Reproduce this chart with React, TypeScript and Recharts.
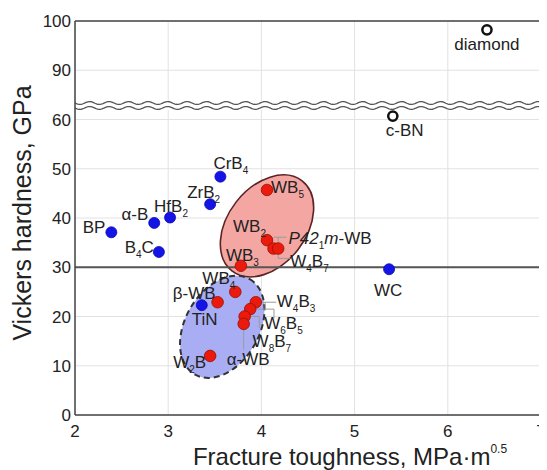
import React from 'react';
import {
  ScatterChart,
  Scatter,
  XAxis,
  YAxis,
  CartesianGrid,
  ReferenceLine,
  ReferenceArea,
  ReferenceDot,
} from 'recharts';

// ---------------- data ----------------
const xTicks = [2, 3, 4, 5, 6, 7];
// axis positions (lower panel 0..62.5 GPa, upper panel shifted down by GAP)
const yAxisTicks = [0, 10, 20, 30, 40, 50, 60, 70, 80];
const GAP = 20; // GPa removed by the axis break (≈62.5 .. 82.5)

const blueNames = ['BP', 'α-B', 'HfB_2', 'ZrB_2', 'CrB_4', 'B_4C', 'TiN', 'WC'];
const blueToughness = [2.39, 2.85, 3.02, 3.45, 3.56, 2.9, 3.36, 5.37];
const blueHardness = [37.1, 39.0, 40.1, 42.8, 48.4, 33.1, 22.3, 29.6];

const redNames = ['WB_5', 'WB_2', '*P42*_1*m*-WB', 'W_4B_7', 'WB_3', 'WB_4', 'β-WB', 'W_4B_3', 'W_6B_5', 'W_8B_7', 'α-WB', 'W_2B'];
const redToughness = [4.06, 4.06, 4.13, 4.18, 3.78, 3.72, 3.53, 3.94, 3.88, 3.82, 3.81, 3.45];
const redHardness = [45.7, 35.5, 33.8, 33.8, 30.3, 25.0, 22.9, 22.9, 21.5, 20.0, 18.5, 12.0];

const hollowNames = ['diamond', 'c-BN'];
const hollowToughness = [6.42, 5.41];
const hollowHardness = [98.2, 60.7];

// ellipse centres (toughness, hardness)
const redRegion = { x: 4.06, y: 38.4 };
const blueRegion = { x: 3.58, y: 17.9 };

// leader lines [x1, y1, x2, y2] in data units
const leaders = [
  [4.13, 36.1, 4.27, 36.1],
  [4.18, 36.1, 4.18, 31.8],
  [4.18, 31.8, 4.31, 31.8],
  [4.0, 22.9, 4.16, 22.9],
  [4.04, 22.9, 4.04, 21.5],
  [3.94, 21.5, 4.135, 21.5],
  [4.135, 21.5, 4.135, 19.6],
  [3.88, 20.0, 3.977, 20.0],
  [3.977, 20.0, 3.977, 17.7],
  [3.81, 18.0, 3.81, 13.3],
];

// ---------------- helpers ----------------
const toAxis = (v: number) => (v > 75 ? v - GAP : v);
const fromAxis = (v: number) => (v > 62.5 ? v + GAP : v);

const build = (names: string[], xs: number[], ys: number[]) =>
  names.map((n, i) => ({ name: n, x: xs[i], y: toAxis(ys[i]) }));

const blueData = build(blueNames, blueToughness, blueHardness);
const redData = build(redNames, redToughness, redHardness);
const hollowData = build(hollowNames, hollowToughness, hollowHardness);

const FONT = '"Liberation Sans", Arial, Helvetica, sans-serif';

const labelPos: Record<string, { dx: number; dy: number; anchor: string }> = {
  BP: { dx: -6, dy: 1, anchor: 'end' },
  'α-B': { dx: -6, dy: -3, anchor: 'end' },
  HfB_2: { dx: -16, dy: -6, anchor: 'start' },
  ZrB_2: { dx: 10, dy: -6, anchor: 'end' },
  CrB_4: { dx: -7, dy: -8, anchor: 'start' },
  B_4C: { dx: -5, dy: 1, anchor: 'end' },
  TiN: { dx: -10, dy: 20, anchor: 'start' },
  WC: { dx: -1, dy: 27, anchor: 'middle' },
  WB_5: { dx: 4, dy: 3, anchor: 'start' },
  WB_2: { dx: -1, dy: -8, anchor: 'end' },
  '*P42*_1*m*-WB': { dx: 15, dy: -5, anchor: 'start' },
  W_4B_7: { dx: 12, dy: 18, anchor: 'start' },
  WB_3: { dx: -15, dy: -5, anchor: 'start' },
  WB_4: { dx: 0, dy: -8, anchor: 'end' },
  'β-WB': { dx: -2, dy: -3, anchor: 'end' },
  W_4B_3: { dx: 21, dy: 5, anchor: 'start' },
  W_6B_5: { dx: 14, dy: 20, anchor: 'start' },
  W_8B_7: { dx: 8, dy: 30, anchor: 'start' },
  'α-WB': { dx: -17, dy: 41, anchor: 'start' },
  W_2B: { dx: -4, dy: 12, anchor: 'end' },
  diamond: { dx: 0, dy: 20, anchor: 'middle' },
  'c-BN': { dx: -7, dy: 20, anchor: 'start' },
};

function richText(spec: string) {
  const out: React.ReactNode[] = [];
  let italic = false;
  let shift = 0;
  let buf = '';
  let key = 0;
  const flush = () => {
    if (!buf) return;
    out.push(
      <tspan key={key++} dy={-shift} fontStyle={italic ? 'italic' : 'normal'}>
        {buf}
      </tspan>
    );
    shift = 0;
    buf = '';
  };
  for (let i = 0; i < spec.length; i++) {
    const c = spec[i];
    if (c === '*') {
      flush();
      italic = !italic;
    } else if (c === '_') {
      flush();
      const s = spec[i + 1];
      i++;
      out.push(
        <tspan key={key++} dy={5 - shift} fontSize={10} fontStyle="normal">
          {s}
        </tspan>
      );
      shift = 5;
    } else {
      buf += c;
    }
  }
  flush();
  return out;
}

const makeShape = (fill: string, stroke: string, r: number, hollow = false) => (props: any) => {
  const { cx, cy, payload } = props;
  if (cx == null || cy == null) return null;
  const lp = labelPos[payload.name] || { dx: 8, dy: 0, anchor: 'start' };
  return (
    <g>
      <circle
        cx={cx}
        cy={cy}
        r={r}
        fill={hollow ? '#fff' : fill}
        stroke={stroke}
        strokeWidth={hollow ? 2.5 : 0.8}
      />
      <text
        x={cx + lp.dx}
        y={cy + lp.dy}
        textAnchor={lp.anchor as any}
        fontSize={17}
        fill="#222"
        fontFamily={FONT}
      >
        {richText(payload.name)}
      </text>
    </g>
  );
};

const ellipseShape = (a: number, b: number, angle: number, fill: string, stroke: string, dash?: string) => (props: any) => {
  const { cx, cy } = props;
  if (cx == null || cy == null) return null;
  return (
    <ellipse
      cx={cx}
      cy={cy}
      rx={a}
      ry={b}
      transform={`rotate(${angle} ${cx} ${cy})`}
      fill={fill}
      stroke={stroke}
      strokeWidth={dash ? 2 : 1.6}
      strokeDasharray={dash}
    />
  );
};

const breakShape = (props: any) => {
  const { x, y, width, height } = props;
  if (x == null) return null;
  const period = 19.5;
  const amp = 1.4;
  const wave = (base: number) => {
    let d = '';
    for (let px = 0; px <= width; px += 1) {
      const yy = base + amp * Math.sin((2 * Math.PI * px) / period);
      d += `${px === 0 ? 'M' : 'L'}${(x + px).toFixed(1)},${yy.toFixed(2)}`;
    }
    return d;
  };
  const top = wave(y);
  const bot = wave(y + height);
  return (
    <g>
      <rect x={x + 0.8} y={y - 2} width={width - 1.6} height={height + 4} fill="#fff" />
      <path d={top} fill="none" stroke="#555" strokeWidth={1.3} />
      <path d={bot} fill="none" stroke="#555" strokeWidth={1.3} />
    </g>
  );
};

const XTitle = (props: any) => {
  const vb = props.viewBox || {};
  return (
    <text x={vb.x + 275} y={vb.y + 50} textAnchor="middle" fontSize={24} fill="#222" fontFamily={FONT}>
      Fracture toughness, MPa·m
      <tspan fontSize={12} dy={-12}>0.5</tspan>
    </text>
  );
};

const YTitle = (props: any) => {
  const vb = props.viewBox || {};
  const cx = 14;
  const cy = vb.y + vb.height / 2 - 5;
  return (
    <text
      x={cx}
      y={cy}
      transform={`rotate(-90 ${cx} ${cy})`}
      textAnchor="middle"
      dominantBaseline="central"
      fontSize={25}
      fill="#222"
      fontFamily={FONT}
    >
      Vickers hardness, GPa
    </text>
  );
};

export default function App() {
  return (
    <div style={{ width: 539, height: 462, background: '#fff' }}>
      <ScatterChart
        width={539}
        height={462}
        margin={{ top: 13, right: 6, bottom: 0, left: 0 }}
        style={{ fontFamily: FONT }}
      >
        <CartesianGrid stroke="#e2e2e2" strokeWidth={1} />
        <XAxis
          type="number"
          dataKey="x"
          domain={[2, 7]}
          ticks={xTicks}
          height={55}
          tickLine={false}
          tickSize={6}
          tickMargin={4}
          axisLine={{ stroke: '#444', strokeWidth: 1.5 }}
          tick={{ fontSize: 17, fill: '#222', fontFamily: FONT }}
          label={<XTitle />}
        />
        <YAxis
          type="number"
          dataKey="y"
          domain={[0, 80]}
          ticks={yAxisTicks}
          width={67}
          tickLine={false}
          tickSize={2}
          tickMargin={2}
          interval={0}
          tickFormatter={(v: number) => String(fromAxis(v))}
          axisLine={{ stroke: '#444', strokeWidth: 1.5 }}
          tick={{ fontSize: 17, fill: '#222', fontFamily: FONT }}
          label={<YTitle />}
        />
        <ReferenceLine y={80} stroke="#444" strokeWidth={1.5} />
        <ReferenceLine x={7} stroke="#444" strokeWidth={1.5} />
        <ReferenceArea
          x1={2}
          x2={7}
          y1={62.35}
          y2={63.35}
          shape={breakShape}
          isFront={false}
          zIndex={50}
        />
        <ReferenceDot
          x={redRegion.x}
          y={redRegion.y}
          r={1}
          shape={ellipseShape(57, 39, -52, '#f4a7a2', '#5b2323')}
          zIndex={50}
        />
        <ReferenceDot
          x={blueRegion.x}
          y={blueRegion.y}
          r={1}
          shape={ellipseShape(55, 37, -60, '#a9aef4', '#333', '6 4')}
          zIndex={50}
        />
        <ReferenceLine y={30} stroke="#555" strokeWidth={2} zIndex={60} />
        {leaders.map((l, i) => (
          <ReferenceLine
            key={i}
            segment={[
              { x: l[0], y: l[1] },
              { x: l[2], y: l[3] },
            ]}
            stroke="#9a9a9a"
            strokeWidth={1}
            zIndex={70}
          />
        ))}
        <Scatter data={blueData} isAnimationActive={false} shape={makeShape('#1414e6', '#0a0ab0', 5.5)} />
        <Scatter data={redData} isAnimationActive={false} shape={makeShape('#ea1a0c', '#9a0e05', 5.8)} />
        <Scatter data={hollowData} isAnimationActive={false} shape={makeShape('#fff', '#111', 4.6, true)} />
      </ScatterChart>
    </div>
  );
}
